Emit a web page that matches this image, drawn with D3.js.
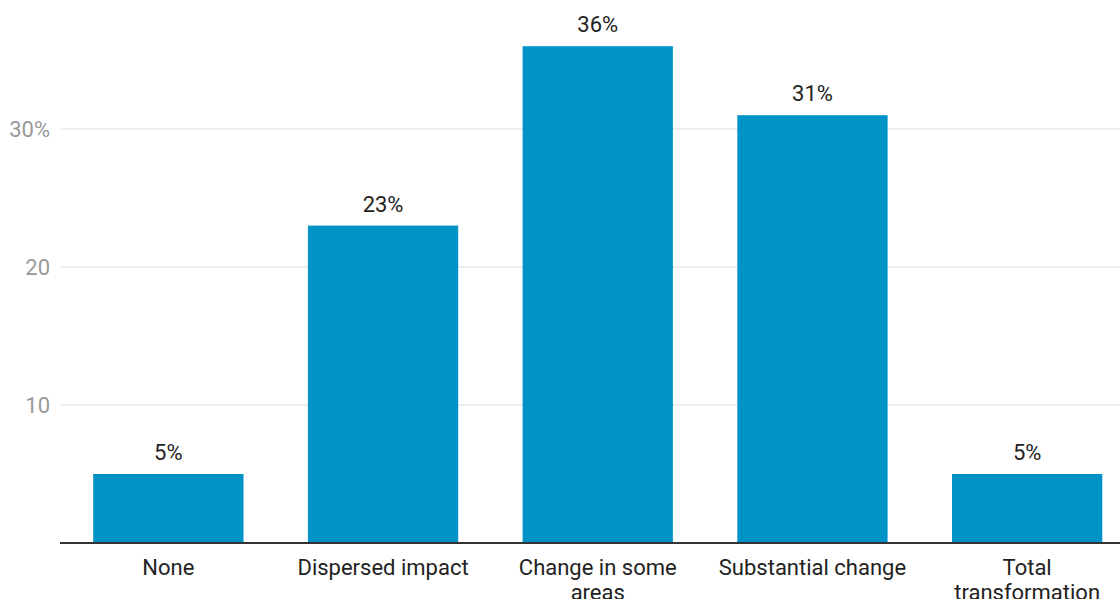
<!DOCTYPE html>
<html>
<head>
<meta charset="utf-8">
<script src="https://cdn.jsdelivr.net/npm/d3@7"></script>
<style>
  body { margin: 0; background: #fff; }
  svg { display: block; font-family: Roboto, sans-serif; }
</style>
</head>
<body>
<svg class="chart-img"></svg>
<script>
const categories = [['None'], ['Dispersed impact'], ['Change in some', 'areas'],
    ['Substantial change'], ['Total', 'transformation']];
const values = [5, 23, 36, 31, 5];
const tickValues = [10, 20, 30];
const tickLabels = ['10', '20', '30%'];

const width = 1120, height = 599;
const margins = {left: 61, bottom: 56, top: 0};
const baseline = height - margins.bottom;

const chart = d3.select('.chart-img')
    .attr('width', width)
    .attr('height', height);

const xScale = d3.scaleBand().domain(categories.map((c, i) => i))
    .range([margins.left, margins.left + 5 * 214.7]).paddingInner(0.3).paddingOuter(0.15);
const yScale = d3.scaleLinear().domain([0, 10]).range([baseline, baseline - 138]);

// gridlines + y labels
chart.selectAll('.grid')
    .data(tickValues)
    .enter()
    .append('line')
    .attr('x1', margins.left)
    .attr('x2', width)
    .attr('y1', d => yScale(d))
    .attr('y2', d => yScale(d))
    .attr('stroke', '#e8e8e8')
    .attr('stroke-width', 1.5);

chart.selectAll('.ylab')
    .data(tickValues)
    .enter()
    .append('text')
    .attr('x', 50)
    .attr('y', d => yScale(d) + 8)
    .attr('text-anchor', 'end')
    .attr('fill', '#9a9a9a')
    .style('font-size', '22px')
    .text((d, i) => tickLabels[i]);

chart.selectAll('.bar')
    .data(values)
    .enter()
    .append('rect')
    .attr('x', (d, i) => xScale(i))
    .attr('y', d => yScale(d))
    .attr('width', xScale.bandwidth())
    .attr('height', d => baseline - yScale(d))
    .attr('fill', '#0093c7');

chart.selectAll('.vlab')
    .data(values)
    .enter()
    .append('text')
    .attr('x', (d, i) => xScale(i) + xScale.bandwidth() / 2)
    .attr('y', d => yScale(d) - 14)
    .attr('text-anchor', 'middle')
    .attr('fill', '#222')
    .style('font-size', '22px')
    .text(d => d + '%');

// baseline axis
chart.append('line')
    .attr('x1', margins.left - 1)
    .attr('x2', width)
    .attr('y1', baseline)
    .attr('y2', baseline)
    .attr('stroke', '#333')
    .attr('stroke-width', 2);

const catLabels = chart.selectAll('.xlab')
    .data(categories)
    .enter()
    .append('text')
    .attr('text-anchor', 'middle')
    .attr('fill', '#222')
    .style('font-size', '22px');

catLabels.selectAll('tspan')
    .data((d, i) => d.map(line => ({line, i})))
    .enter()
    .append('tspan')
    .attr('x', d => xScale(d.i) + xScale.bandwidth() / 2)
    .attr('y', (d, j) => baseline + 32 + j * 25)
    .text(d => d.line);
</script>
</body>
</html>
